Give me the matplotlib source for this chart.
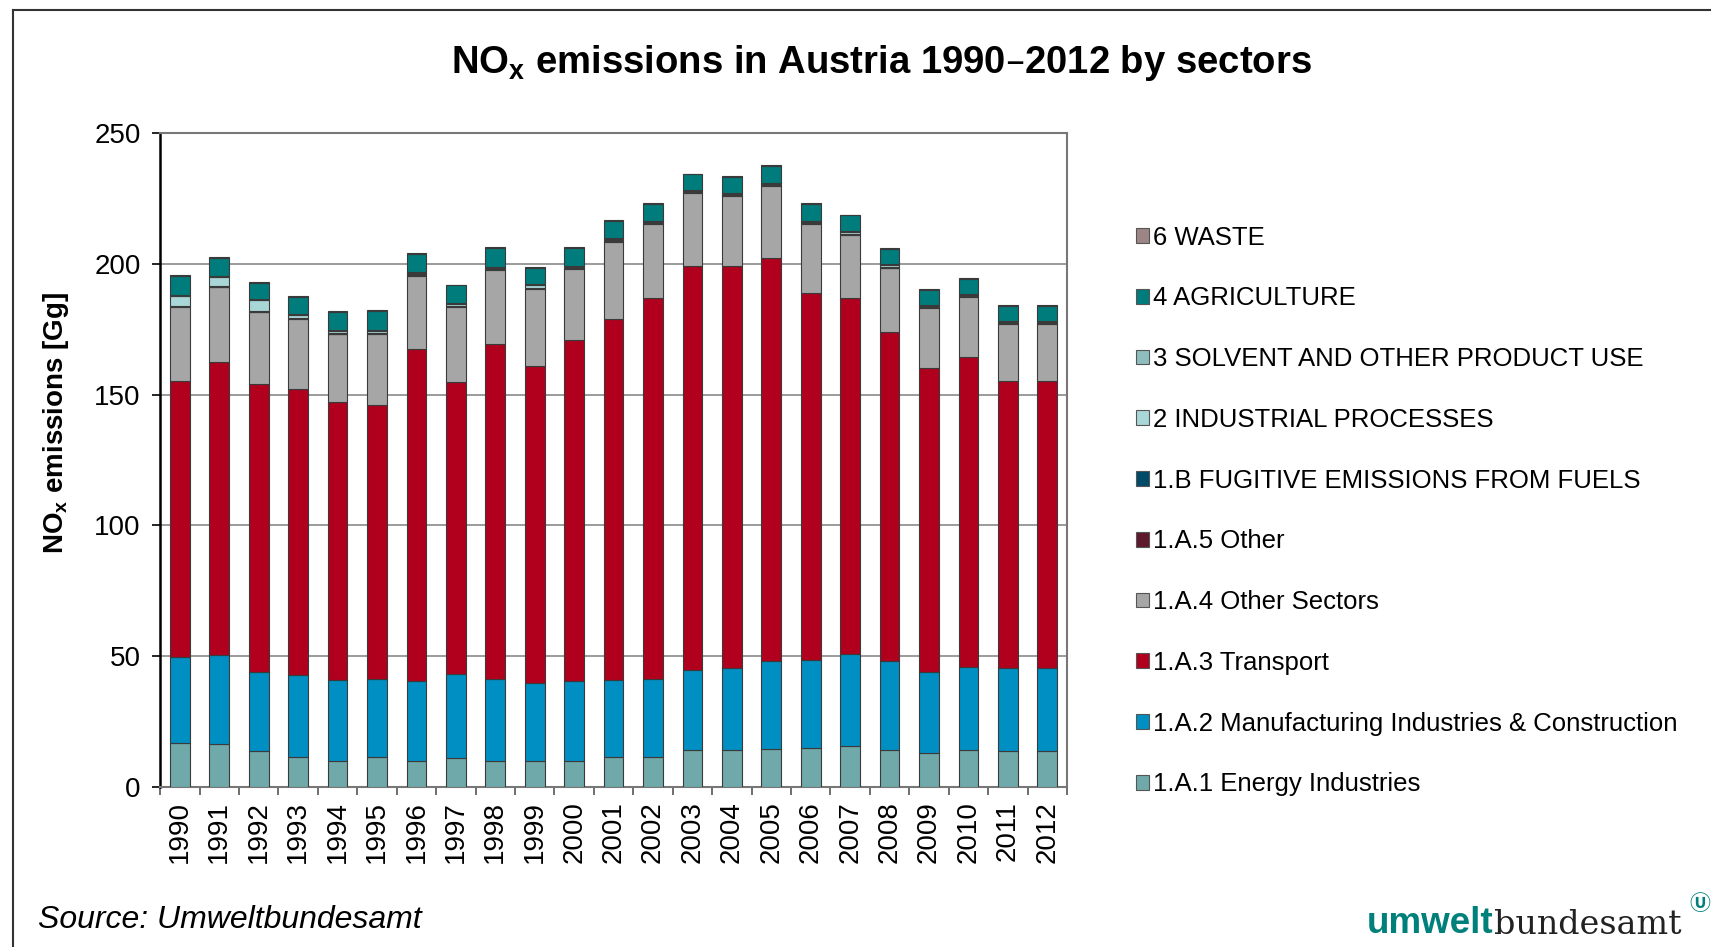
import numpy as np
import matplotlib
matplotlib.use("Agg")
import matplotlib.pyplot as plt
from matplotlib.patches import Patch
from matplotlib.lines import Line2D

plt.rcParams["font.family"] = ["Liberation Sans", "DejaVu Sans"]

years = [str(y) for y in range(1990, 2013)]

# Gg NOx per sector
energy = [16.9, 16.3, 13.6, 11.5, 10.1, 11.6, 10.1, 11.1, 10.1, 10.1, 10.1, 11.6,
          11.3, 14.0, 14.1, 14.6, 15.0, 15.8, 14.1, 12.8, 14.0, 13.6, 13.6]
manufacturing = [32.6, 34.0, 30.4, 31.2, 30.9, 29.6, 30.4, 32.1, 31.3, 29.8, 30.4, 29.4,
                 29.9, 30.7, 31.4, 33.6, 33.7, 34.9, 34.1, 31.2, 32.0, 31.7, 31.7]
transport = [105.8, 112.0, 110.0, 109.3, 106.0, 104.8, 126.9, 111.6, 128.0, 120.9, 130.3, 138.0,
             145.7, 154.6, 153.8, 154.0, 140.3, 136.2, 125.7, 116.3, 118.5, 110.0, 110.0]
other_sectors = [28.3, 28.7, 27.4, 27.0, 26.0, 27.3, 28.1, 28.8, 28.3, 29.7, 27.2, 29.5,
                 28.2, 27.8, 26.6, 27.5, 26.1, 24.1, 24.3, 22.7, 22.7, 21.6, 21.6]
other_a5 = [0.3] * 23
fugitive = [0.1] * 23
industrial = [3.8, 3.4, 4.2, 0.9, 1.0, 0.5, 0.7, 0.6, 0.4, 0.9, 0.5, 0.5,
              0.3, 0.3, 0.3, 0.4, 0.6, 0.9, 0.9, 0.4, 0.4, 0.3, 0.3]
solvent = [0.4] * 23
agriculture = [7.3, 7.1, 6.3, 6.7, 6.9, 7.3, 6.8, 6.7, 7.1, 6.1, 6.7, 6.5,
               6.6, 6.0, 6.3, 6.4, 6.3, 5.8, 5.8, 5.9, 5.8, 5.9, 5.9]
waste = [0.3] * 23

series = [
    ("1.A.1 Energy Industries", energy, "#70a9a9"),
    ("1.A.2 Manufacturing Industries & Construction", manufacturing, "#008fc3"),
    ("1.A.3 Transport", transport, "#b0001e"),
    ("1.A.4 Other Sectors", other_sectors, "#a6a6a6"),
    ("1.A.5 Other", other_a5, "#5e1a2c"),
    ("1.B FUGITIVE EMISSIONS FROM FUELS", fugitive, "#014a68"),
    ("2 INDUSTRIAL PROCESSES", industrial, "#a9d6d6"),
    ("3 SOLVENT AND OTHER PRODUCT USE", solvent, "#8ebdbd"),
    ("4 AGRICULTURE", agriculture, "#007c7c"),
    ("6 WASTE", waste, "#9e8585"),
]

fig = plt.figure(figsize=(17.11, 9.47), dpi=100)
ax = fig.add_axes([0.0936, 0.169, 0.530, 0.6906])

x = np.arange(len(years))
bottom = np.zeros(len(years))
handles = []
for label, vals, color in series:
    vals = np.array(vals)
    ax.bar(x, vals, width=0.5, bottom=bottom, color=color,
           edgecolor="#3a3a3a", linewidth=0.8, zorder=3)
    bottom += vals
    handles.append(Patch(facecolor=color, edgecolor="#555555", linewidth=0.8, label=label))

ax.set_xlim(-0.5, len(years) - 0.5)
ax.set_ylim(0, 250)
ax.set_yticks([0, 50, 100, 150, 200, 250])
ax.yaxis.grid(True, color="#8a8a8a", linewidth=1.2, zorder=0)
ax.set_axisbelow(True)

ax.set_xticks(x)
ax.set_xticklabels(years, rotation=90, fontsize=20)
ax.set_xticks(np.arange(-0.5, len(years), 1), minor=True)
ax.tick_params(axis="x", which="major", length=0, pad=10)
ax.tick_params(axis="x", which="minor", length=6, width=1.2, color="#555555")
ax.tick_params(axis="y", labelsize=20, length=6, width=1.2, pad=8)

for side in ["top", "right", "bottom"]:
    ax.spines[side].set_color("#777777")
    ax.spines[side].set_linewidth(1.5)
ax.spines["left"].set_color("black")
ax.spines["left"].set_linewidth(1.8)

ax.set_ylabel("NO$_\\mathregular{x}$ emissions [Gg]", fontsize=20, fontweight="bold")
ax.yaxis.set_label_coords(-0.098, 0.557)

leg = ax.legend(handles=handles[::-1], loc="upper left", bbox_to_anchor=(1.065, 0.874),
                frameon=False, fontsize=18.5, handlelength=0.5, handleheight=0.5,
                handletextpad=0.15, labelspacing=1.43, borderaxespad=0)

fig.text(0.515, 0.933, "NO$_\\mathregular{x}$ emissions in Austria 1990\u20132012 by sectors",
         ha="center", va="center", fontsize=27.5, fontweight="bold")

fig.text(0.022, 0.029, "Source: Umweltbundesamt", fontsize=23, style="italic",
         ha="left", va="center")

t1 = fig.text(0.799, 0.0148, "umwelt", fontsize=26.5, fontweight="bold", color="#00807a",
              ha="left", va="baseline")
ax.annotate("bundesamt", xy=(1, 0), xycoords=t1, ha="left", va="bottom",
            fontsize=24, color="#222222", family=["DejaVu Serif"])
fig.text(0.9936, 0.046, "\u24ca", fontsize=15, fontweight="bold", color="#00807a",
         ha="center", va="center", family=["Noto Sans CJK JP", "DejaVu Sans"])

# outer frame (top and left edges visible)
fig.add_artist(Line2D([0.0076, 1.0], [0.989, 0.989], transform=fig.transFigure,
                      color="#333333", linewidth=1.5))
fig.add_artist(Line2D([0.0076, 0.0076], [0.0, 0.989], transform=fig.transFigure,
                      color="#333333", linewidth=1.5))

fig.savefig("out.png", dpi=100)
